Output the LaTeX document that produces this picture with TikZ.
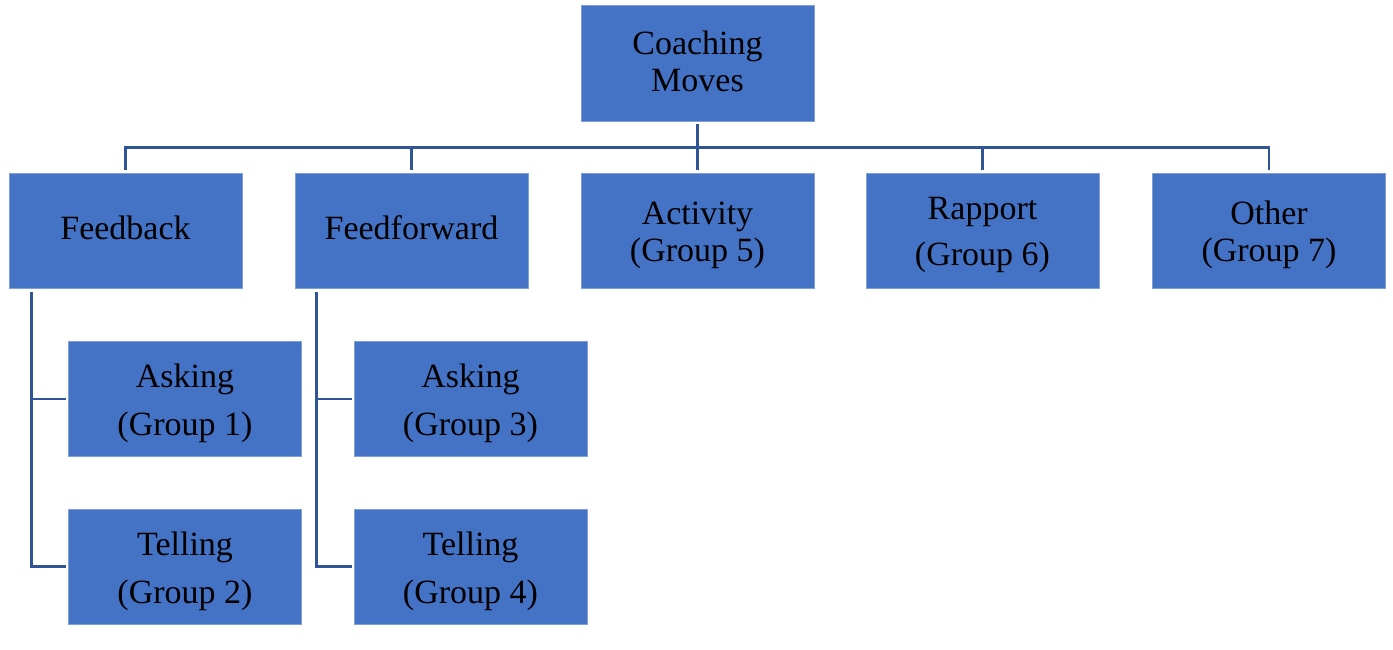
\documentclass[tikz,border=0pt]{standalone}
\usepackage{fontspec}
\setmainfont{Liberation Serif}
\definecolor{boxblue}{HTML}{4472C4}
\definecolor{boxedge}{HTML}{7E9FD8}
\definecolor{lineblue}{HTML}{2F5597}
\begin{document}
\begin{tikzpicture}[x=1pt,y=-1pt,
  box/.style={fill=boxblue,draw=boxedge,line width=0.8pt,minimum width=233pt,minimum height=115pt,inner sep=0pt},
  lbl/.style={anchor=base,inner sep=0pt,font=\fontsize{34}{40}\selectfont,text=black},
  conn/.style={draw=lineblue,line width=2.5pt}]
\useasboundingbox (0,0) rectangle (1393,650);
% boxes
\node[box,minimum height=116pt] (cm) at (697.5,63) {};
\node[box] (fb) at (125.5,230.5) {};
\node[box] (ff) at (411.5,230.5) {};
\node[box] (ac) at (697.5,230.5) {};
\node[box] (ra) at (982.5,230.5) {};
\node[box] (ot) at (1269,230.5) {};
\node[box] (a1) at (185,399) {};
\node[box] (t2) at (185,566.5) {};
\node[box] (a3) at (470.5,399) {};
\node[box] (t4) at (470.5,566.5) {};
% labels
\node[lbl] (cmA) at (697.5,55) {Coaching};
\node[lbl] (cmB) at (697.5,92) {Moves};
\node[lbl] (fbA) at (125.5,240) {Feedback};
\node[lbl] (ffA) at (411.5,240) {Feedforward};
\node[lbl] (acA) at (697.5,224) {Activity};
\node[lbl] (acB) at (697.5,261) {(Group 5)};
\node[lbl] (raA) at (982.5,219) {Rapport};
\node[lbl] (raB) at (982.5,265) {(Group 6)};
\node[lbl] (otA) at (1269,224) {Other};
\node[lbl] (otB) at (1269,261) {(Group 7)};
\node[lbl] (a1A) at (185,387) {Asking};
\node[lbl] (a1B) at (185,435) {(Group 1)};
\node[lbl] (t2A) at (185,555) {Telling};
\node[lbl] (t2B) at (185,603) {(Group 2)};
\node[lbl] (a3A) at (470.5,387) {Asking};
\node[lbl] (a3B) at (470.5,435) {(Group 3)};
\node[lbl] (t4A) at (470.5,555) {Telling};
\node[lbl] (t4B) at (470.5,603) {(Group 4)};
% top connectors
\coordinate (hub) at (697.5,147.5);
\draw[conn] ([yshift=-3pt]cm.south) -- (hub);
\draw[conn] ([yshift=3pt]fb.north) -- (hub -| fb.north) -- (hub -| ot.north) -- ([yshift=3pt]ot.north);
\foreach \n in {ff,ac,ra}
  \draw[conn] (hub -| \n.north) -- ([yshift=3pt]\n.north);
% child brackets
\coordinate (fbs) at ([xshift=23pt,yshift=-4pt]fb.south west);
\draw[conn] (fbs) -- (fbs |- t2.west) -- ([xshift=-2pt]t2.west);
\draw[conn] (fbs |- a1.west) -- ([xshift=-2pt]a1.west);
\coordinate (ffs) at ([xshift=22pt,yshift=-4pt]ff.south west);
\draw[conn] (ffs) -- (ffs |- t4.west) -- ([xshift=-2pt]t4.west);
\draw[conn] (ffs |- a3.west) -- ([xshift=-2pt]a3.west);
\end{tikzpicture}
\end{document}
